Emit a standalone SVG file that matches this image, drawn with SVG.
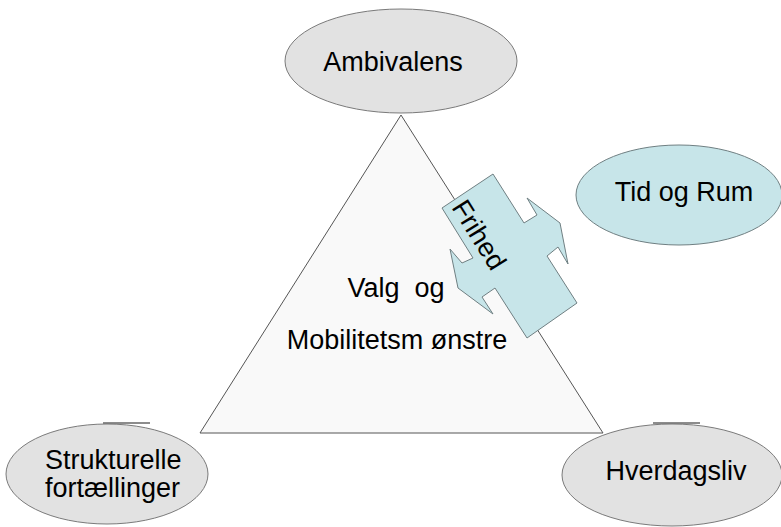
<svg xmlns="http://www.w3.org/2000/svg" width="781" height="527" viewBox="0 0 781 527">
<style>
.gray{fill:#e2e2e2;stroke:#7a7a7a;stroke-width:1}
.blue{fill:#c7e5e9;stroke:#6f7f82;stroke-width:1}
.t{font-family:"Liberation Sans",Arial,sans-serif;font-size:27px;fill:#000}
.m{text-anchor:middle}
.tick{stroke:#666;stroke-width:1.5}
</style>
<rect width="781" height="527" fill="#fff"/>
<g id="triangle">
<polygon points="401,115 200,433 603,433" fill="#f9f9f9" stroke="#555" stroke-width="1"/>
<text class="t m" x="396" y="297" xml:space="preserve">Valg  og</text>
<text class="t m" x="397" y="349">Mobilitetsm ønstre</text>
</g>
<g id="ambivalens">
<ellipse class="gray" cx="401" cy="61" rx="116" ry="52"/>
<text class="t m" x="393" y="71">Ambivalens</text>
</g>
<g id="tid-og-rum">
<ellipse class="blue" cx="679" cy="195" rx="103" ry="50"/>
<text class="t m" x="684" y="201">Tid og Rum</text>
</g>
<g id="strukturelle">
<ellipse class="gray" cx="107" cy="474" rx="101" ry="50"/>
<line class="tick" x1="103" y1="423" x2="150" y2="423"/>
<text class="t" x="45" y="469">Strukturelle</text>
<text class="t" x="45" y="497">fortællinger</text>
</g>
<g id="hverdagsliv">
<ellipse class="gray" cx="672" cy="475" rx="110" ry="51"/>
<line class="tick" x1="653" y1="423" x2="700" y2="423"/>
<text class="t m" x="676" y="480">Hverdagsliv</text>
</g>
<g id="frihed">
<polygon class="blue" points="493,174 524,223 537,215 527,198 560,223 568,264 558,247 547,256 577,303 527,338 495,288 482,297 493,314 458,288 450,249 462,263 473,258 442,208"/>
<text class="t m" transform="translate(479,235) rotate(58)" x="0" y="9">Frihed</text>
</g>
<g id="connectors"></g>
</svg>
